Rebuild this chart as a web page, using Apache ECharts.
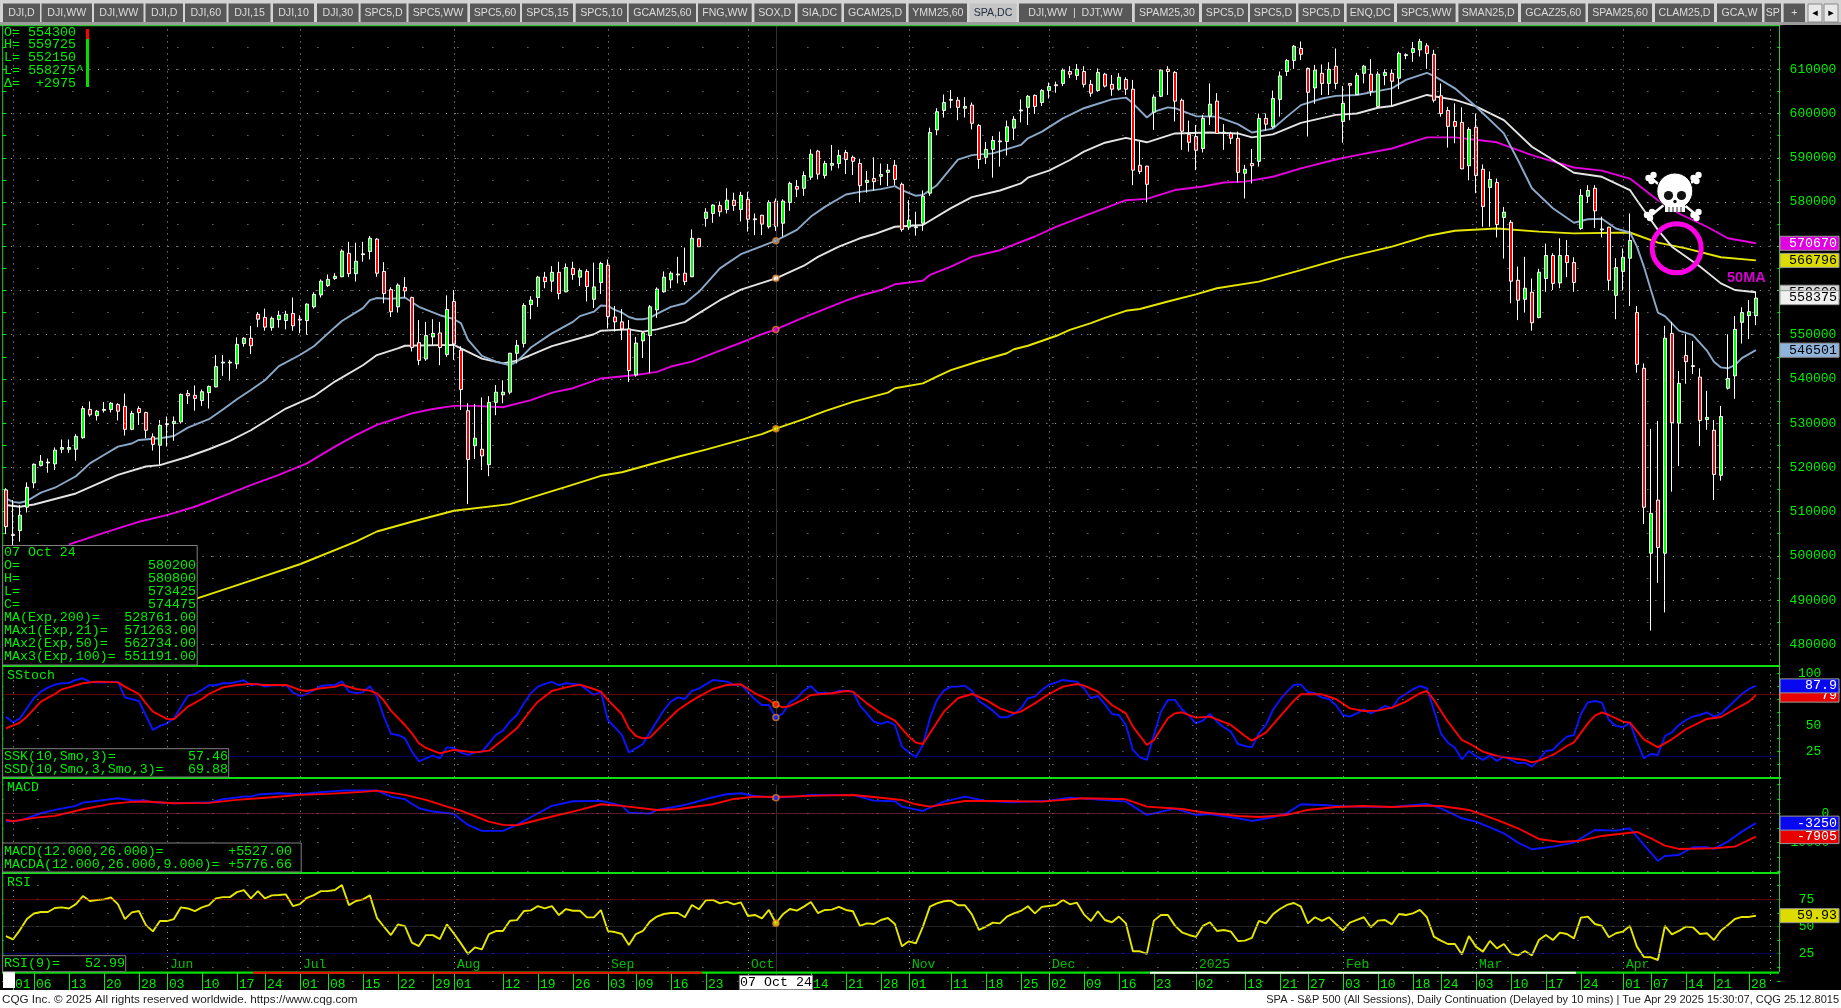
<!DOCTYPE html>
<html><head><meta charset="utf-8">
<style>html,body{margin:0;padding:0;background:#000;overflow:hidden}#c{width:1841px;height:1008px}</style>
<script src="https://cdn.jsdelivr.net/npm/echarts@6/dist/echarts.min.js"></script>
</head><body><div id="c"></div>
<script>
// ---- data (S&P 500 index points) ----
const open=[5149,5048,5057,5110,5165,5204,5210,5208,5241,5241,5241,5267,5331,5317,5329,5331,5342,5338,5286,5333,5324,5269,5250,5299,5299,5303,5367,5363,5351,5369,5382,5436,5436,5434,5480,5492,5546,5539,5516,5534,5532,5548,5535,5532,5563,5590,5611,5627,5631,5684,5638,5681,5688,5716,5643,5602,5563,5607,5584,5482,5445,5495,5504,5455,5575,5465,5328,5249,5241,5206,5347,5364,5370,5458,5480,5568,5584,5630,5621,5641,5597,5650,5630,5643,5580,5618,5657,5540,5529,5513,5409,5486,5498,5556,5597,5624,5635,5639,5631,5717,5763,5774,5792,5783,5804,5783,5806,5762,5770,5744,5802,5752,5799,5835,5831,5856,5915,5860,5883,5887,5912,5901,5887,5844,5853,5858,5867,5883,5840,5743,5742,5752,5820,5963,6007,6030,6030,6012,6019,5973,5901,5919,5936,5937,5967,6006,6014,6041,6025,6052,6065,6068,6095,6086,6095,6066,6052,6089,6066,6055,6077,6055,5883,5881,6003,6039,6100,6093,6030,5953,5948,5921,5994,6028,5956,5955,5944,5865,5887,5892,5989,5970,6032,6095,6120,6147,6102,6058,6091,6068,6107,5982,6068,6043,6091,6089,6016,6086,6091,6080,6131,6138,6144,6153,6134,6040,6007,5982,5980,5882,5969,5874,5833,5844,5765,5754,5623,5580,5596,5539,5627,5679,5617,5679,5663,5740,5813,5831,5737,5743,5589,5643,5673,5550,5424,5006,5126,5006,5503,5300,5453,5430,5404,5308,5284,5182,5379,5407,5528,5543,5543];
const close=[5066,5046,5092,5155,5207,5214,5212,5239,5245,5245,5270,5333,5319,5327,5331,5345,5327,5286,5322,5324,5284,5252,5295,5297,5304,5365,5362,5356,5371,5383,5428,5438,5438,5478,5492,5475,5535,5517,5537,5544,5546,5520,5533,5569,5591,5621,5625,5632,5689,5638,5666,5683,5718,5639,5593,5552,5612,5599,5471,5442,5498,5503,5471,5557,5479,5376,5218,5266,5226,5347,5370,5370,5458,5476,5566,5578,5630,5620,5641,5593,5652,5636,5645,5609,5608,5661,5541,5529,5513,5419,5481,5504,5563,5603,5630,5639,5637,5620,5718,5699,5777,5793,5778,5804,5792,5815,5761,5760,5750,5799,5744.75,5802,5842,5829,5860,5908,5863,5887,5887,5905,5896,5892,5837,5849,5846,5862,5872,5851,5738,5759,5744,5813,5957,6004,6025,6032,6014,6016,5978,5896,5919,5939,5938,5970,5987,6008,6039,6016,6052,6061,6063,6098,6089,6100,6066,6046,6093,6062,6055,6082,6055,5872,5869,5840,6037,6098,6095,6028,5960,5935,5917,5989,6021,5955,5958,5944,5867,5874,5882,5989,5976,6034,6085,6120,6152,6134,6048,6098,6068,6100,6068,6023,6064,6086,6107,6050,6089,6093,6073,6136,6133,6147,6163,6136,6030,6000,5971,5971,5875,5964,5860,5790,5851,5749,5777,5621,5578,5605,5527,5641,5679,5616,5679,5663,5618,5815,5826,5780,5739,5623,5652,5675,5713,5433,5110,5096,5019,5492,5301,5390,5439,5428,5306,5313,5184,5315,5401,5512,5550,5552,5582.75];
const high=[5153,5126,5115,5166,5209,5228,5220,5245,5263,5263,5275,5339,5349,5330,5348,5348,5345,5367,5328,5338,5326,5277,5307,5315,5315,5367,5375,5385,5376,5385,5454,5454,5443,5494,5494,5520,5551,5559,5541,5554,5554,5584,5544,5571,5596,5625,5636,5639,5693,5710,5708,5710,5723,5718,5664,5607,5616,5630,5586,5533,5529,5535,5529,5589,5601,5474,5345,5343,5358,5361,5386,5397,5459,5488,5571,5587,5633,5642,5655,5665,5661,5665,5650,5648,5663,5665,5670,5565,5558,5533,5495,5507,5567,5607,5643,5643,5676,5697,5738,5719,5786,5795,5801,5831,5821,5823,5823,5774,5771,5804,5808,5806,5846,5850,5869,5919,5918,5893,5929,5918,5918,5905,5898,5870,5901,5887,5886,5895,5844,5804,5778,5826,5968,6012,6043,6053,6037,6037,6025,5976,5936,5949,5959,5984,5994,6032,6042,6043,6055,6070,6072,6102,6107,6112,6107,6076,6102,6092,6087,6091,6082,6076,5936,5882,6043,6100,6107,6096,6034,5984,5974,5997,6068,6046,5976,5959,5959,5884,5920,6000,6000,6052,6095,6123,6155,6163,6104,6110,6111,6116,6147,6062,6069,6092,6110,6123,6095,6100,6100,6140,6136,6162,6169,6159,6144,6068,6015,6023,6014,5969,6000,5885,5869,5853,5789,5759,5654,5676,5627,5649,5706,5684,5718,5714,5675,5829,5838,5838,5767,5744,5673,5695,5774,5565,5435,5287,5305,5520,5529,5418,5501,5486,5424,5373,5307,5339,5501,5542,5562,5578,5597.25];
const low=[5049,5024,5032,5098,5153,5202,5188,5194,5232,5233,5215,5265,5315,5306,5324,5324,5306,5272,5284,5296,5266,5238,5206,5247,5260,5299,5343,5328,5339,5333,5381,5407,5396,5423,5473,5456,5517,5509,5509,5516,5512,5509,5503,5500,5559,5584,5608,5624,5630,5630,5620,5665,5670,5631,5571,5540,5550,5584,5462,5431,5441,5477,5431,5450,5443,5330,5117,5219,5194,5180,5318,5345,5365,5435,5471,5535,5563,5605,5597,5580,5596,5624,5610,5575,5560,5592,5514,5507,5488,5393,5405,5447,5413,5538,5595,5605,5616,5612,5630,5698,5744,5753,5767,5774,5780,5756,5733,5725,5725,5740,5734.25,5722,5780,5811,5814,5850,5851,5853,5871,5876,5863,5861,5799,5821,5826,5838,5836,5838,5733,5737,5724,5735,5814,5951,5991,6012,5985,5991,5964,5875,5886,5855,5880,5905,5940,5980,5974,5999,6017,6034,6047,6062,6080,6076,6059,6038,6049,6059,6040,6052,6042,5838,5863,5799,5963,6037,6042,5982,5918,5914,5872,5912,5974,5954,5918,5931,5844,5808,5842,5880,5961,5966,5993,6085,6101,6121,5948,6022,6042,6042,6055,5934,5985,6042,6068,6040,6014,6064,6018,6055,6123,6117,6129,6101,6025,5993,5923,5933,5874,5849,5820,5744,5744,5720,5672,5571,5533,5550,5509,5537,5597,5601,5605,5630,5597,5737,5798,5741,5720,5600,5535,5600,5565,5414,5072,4831,4939,4872,5145,5203,5389,5411,5248,5285,5126,5170,5376,5355,5480,5490,5521.5];

const ema21=[[0,5130],[1,5122],[2,5120],[3,5124],[5,5143],[7,5154],[10,5180],[12,5209],[14,5228],[16,5247],[18,5254],[19,5262],[22,5266],[24,5271],[26,5290],[29,5309],[31,5331],[33,5354],[35,5375],[37,5397],[39,5429],[42,5454],[44,5474],[47,5517],[48,5531],[51,5560],[52,5578],[53,5583],[55,5581],[57,5584],[59,5563],[62,5544],[64,5535],[65,5526],[66,5489],[68,5452],[70,5439],[72,5431],[73,5439],[75,5471],[78,5503],[81,5529],[82,5542],[84,5552],[85,5566],[86,5565],[87,5556],[88,5550],[89,5540],[90,5535],[91,5535],[92,5538],[93,5547],[95,5563],[97,5571],[99,5597],[102,5650],[105,5682],[108,5700],[110,5712.63],[113,5737],[115,5767],[117,5789],[120,5817],[122,5823],[125,5829],[127,5836],[128,5827],[130,5814],[131,5816],[133,5838],[136,5896],[138,5906],[141,5910],[145,5929],[146,5944],[148,5959],[151,5989],[154,6012],[155,6017],[158,6032],[160,6036],[161,6023],[163,5991],[164,6004],[166,6014],[167,6012],[170,5994],[173,5993],[176,5976],[178,5957],[181,5966],[183,5993],[185,6019],[188,6034],[190,6040],[193,6042],[198,6057],[200,6076],[203,6092],[204,6085],[207,6057],[210,6016],[214,5955],[216,5895],[218,5831],[221,5786],[224,5753],[226,5761],[228,5762],[230,5740],[232,5731],[233,5699],[234,5654],[235,5601],[236,5550],[237,5542],[239,5509],[241,5499],[243,5464],[244,5439],[245,5426],[246,5424],[247,5431],[248,5447],[250,5465.01]];
const ema50=[[0,5115],[2,5111],[4,5116],[10,5141],[16,5183],[20,5202],[22,5205],[26,5224],[29,5241],[32,5260],[35,5284],[40,5333],[44,5361],[47,5394],[51,5431],[53,5454],[56,5469],[57,5475],[64,5477],[65,5469],[68,5446],[71,5435],[73,5441],[78,5474],[84,5501],[85,5509],[89,5512],[91,5507],[93,5512],[97,5529],[102,5578],[105,5602],[110,5627.34],[114,5656],[116,5676],[119,5699],[122,5718],[124,5727],[127,5744],[131,5748],[135,5786],[138,5811],[142,5826],[145,5842],[146,5855],[149,5871],[152,5895],[154,5914],[157,5934],[160,5945],[163,5935],[167,5955],[172,5957],[176,5955],[178,5946],[181,5953],[185,5979],[190,5997],[193,6000],[196,6013],[198,6017],[203,6042],[207,6031],[210,6016],[214,5985],[218,5925],[224,5866],[228,5857],[232,5827],[233,5804],[236,5737],[238,5699],[242,5654],[245,5616],[247,5601],[250,5596]];
const ema100=[[9,5026],[11,5036],[14,5052],[16,5062],[19,5077],[23,5092],[27,5111],[31,5135],[35,5160],[39,5183],[43,5209],[47,5247],[50,5273],[53,5296],[58,5322],[61,5332],[64,5339],[67,5339],[71,5336],[75,5352],[78,5369],[81,5379],[85,5401],[90,5409],[93,5416],[95,5428],[98,5439],[101,5458],[106,5488],[108,5501],[110,5511.91],[114,5539],[120,5577],[122,5588],[125,5601],[127,5614],[131,5622],[132,5635],[135,5654],[138,5676],[142,5691],[147,5722],[150,5744],[154,5768],[160,5804],[163,5807],[167,5827],[171,5835],[174,5844],[177,5846],[181,5857],[185,5876],[190,5896],[193,5906],[198,5921],[203,5946],[207,5946],[213,5935],[218,5906],[224,5878],[228,5871],[232,5853],[236,5804],[239,5774],[243,5744],[246,5718],[250,5706.7]];
const ema200=[[27,4902],[35,4944],[42,4981],[50,5032],[53,5055],[58,5077],[64,5102],[72,5117],[80,5156],[85,5181],[88,5189],[96,5224],[100,5240],[108,5275],[110,5287.61],[114,5309],[117,5327],[121,5348],[126,5369],[127,5379],[131,5390],[133,5405],[135,5420],[139,5440],[143,5458],[144,5467],[146,5475],[150,5497],[152,5511],[155,5526],[157,5538],[160,5554],[162,5558],[166,5575],[170,5591],[173,5605],[179,5620],[185,5646],[191,5673],[198,5699],[203,5723],[207,5735],[213,5740],[219,5733],[224,5729],[232,5731],[236,5708],[240,5695],[245,5675],[250,5667.96]];

const stochK=[[0,58.3],[1,52.9],[2,56.7],[4,76],[5,82.4],[6,86.2],[7,89.1],[8,90.4],[9,90.7],[10,93.6],[11,95.2],[12,91.7],[14,91],[16,92],[17,76.9],[19,73.4],[21,45.5],[22,49.4],[23,51.9],[24,56.7],[26,78.5],[27,80.1],[28,84],[29,88.5],[30,88.5],[31,90.4],[32,90.4],[33,91.7],[34,93.3],[35,88.5],[36,89.8],[37,87.2],[38,88.1],[40,88.8],[41,81.4],[42,78.2],[43,80.1],[44,84],[45,87.8],[46,88.5],[47,88.5],[48,92.3],[49,82.4],[50,81.1],[51,81.7],[52,87.5],[53,77.6],[54,58.3],[55,41.7],[56,40.7],[57,37.5],[58,24.7],[59,15.4],[60,18.3],[61,20.8],[62,18.3],[63,28.8],[64,28.2],[65,23.7],[66,21.5],[67,24],[68,24.4],[69,32.7],[70,40.7],[71,44.9],[72,53.5],[73,59.9],[74,71.2],[75,80.8],[76,87.2],[77,89.8],[78,91.7],[79,88.5],[80,90.4],[81,89.8],[82,89.1],[84,79.2],[85,82.1],[86,55.1],[88,40.7],[89,24],[91,32],[94,64.7],[95,72.8],[96,76.9],[97,75.3],[98,83],[99,85.3],[101,93.6],[103,92],[104,88.8],[105,89.4],[107,75],[108,69.5],[109,69.5],[110,57.46],[111,61.5],[112,72.1],[113,76],[114,83.3],[115,87.8],[116,80.8],[117,81.4],[118,80.8],[119,83.3],[120,83.3],[121,82.4],[122,68.9],[123,61.5],[124,53.5],[125,51.3],[126,53.5],[127,50.3],[128,29.5],[129,24],[130,19.2],[131,31.1],[132,56.7],[133,74.4],[134,83.3],[135,87.2],[136,87.2],[137,88.1],[138,83.3],[139,73.4],[140,68.9],[141,64.1],[142,57.7],[143,57.7],[144,60.9],[145,66.3],[146,76],[147,77.6],[148,84],[149,89.1],[150,91],[151,93.6],[152,92.6],[153,92],[154,85.6],[155,76],[156,78.2],[157,70.2],[158,60.9],[159,59.9],[160,50.3],[161,26.3],[162,19.2],[163,16.7],[164,40.7],[165,63.1],[166,74.4],[167,74.4],[168,65.4],[169,59.3],[170,51.9],[171,54.5],[172,60.9],[173,53.5],[174,48.1],[175,43.9],[176,32],[177,30.1],[178,28.8],[179,42.3],[180,50.3],[181,64.7],[182,74.4],[183,82.4],[184,88.8],[185,89.4],[186,82],[187,80.8],[188,76.9],[189,75.3],[190,69.5],[191,59.9],[192,58.3],[193,61.5],[194,65.4],[195,61.5],[196,64.7],[197,68.6],[198,66.3],[199,76],[200,80.1],[201,84.6],[202,87.8],[203,85.6],[204,64.7],[205,42.3],[206,33.3],[207,28.5],[208,17.3],[209,25.3],[210,20.5],[211,16.7],[212,20.8],[213,15.7],[214,19.9],[215,16.7],[216,13.5],[217,14.1],[218,10.3],[219,16.7],[220,25.3],[221,26.3],[222,33.3],[223,39.1],[224,40.7],[225,60.9],[226,72.1],[227,73.4],[228,71.8],[229,55.1],[230,49.4],[231,48.1],[232,52.6],[233,34.3],[234,18.3],[235,22.4],[236,21.5],[237,39.7],[238,43.3],[239,50.3],[240,55.1],[241,58.3],[242,59.9],[243,62.5],[244,58.3],[245,60.9],[246,67.3],[247,73.7],[248,80.1],[249,84.9],[250,87.9]];
const stochD=[[0,47.1],[2,52.6],[3,58.3],[5,72.7],[7,80.1],[8,84.6],[9,86.5],[11,90.4],[13,92],[16,91.3],[17,87.2],[19,80.1],[20,71.2],[21,63.1],[23,56.1],[24,55.8],[26,68],[28,75.3],[29,80.1],[31,86.5],[33,88.8],[35,89.8],[37,88.8],[40,88.8],[42,84],[43,83],[45,85.6],[47,86.9],[48,89.1],[50,84.9],[52,83.3],[53,80.8],[54,73.7],[55,64.1],[57,50.3],[58,42.3],[59,32.7],[60,28.2],[62,23.1],[64,26.3],[67,24],[69,25.6],[71,35.9],[73,47.1],[75,64.7],[76,72.7],[78,83],[80,86.5],[82,89.1],[84,84.9],[85,82.4],[86,74.4],[88,60.6],[89,47.1],[90,39.7],[91,37.5],[92,38.1],[94,51.9],[96,64.7],[98,73.7],[99,77.6],[101,84.9],[103,88.8],[105,89.4],[107,80.8],[109,74.4],[110,69.88],[111,67.3],[112,68.6],[114,75],[115,79.2],[118,80.8],[120,83],[121,82.4],[123,71.1],[125,61.5],[127,54.5],[129,39.1],[130,33.3],[131,32],[132,42.3],[134,63.1],[136,76],[138,80.1],[140,74.4],[142,66.3],[144,61.5],[145,63.1],[147,71.1],[149,80.1],[151,87.2],[153,89.7],[154,88.1],[156,82.4],[158,69.5],[160,61.5],[161,48.7],[163,31.1],[164,35.9],[166,56.7],[167,61.5],[168,62.5],[170,57.4],[172,58.3],[173,55.8],[175,50.3],[177,39.7],[178,35.3],[179,39.1],[180,42.9],[182,58.3],[184,73.7],[185,79.8],[188,79.8],[190,75.3],[192,66.3],[194,63.8],[196,64.1],[198,67],[200,72.8],[202,80.8],[203,83],[204,74.4],[206,53.5],[208,35.9],[209,32.7],[211,24.7],[213,20.5],[215,18.3],[217,16.7],[218,14.4],[219,16],[221,21.5],[223,30.1],[224,33.6],[226,51.9],[227,59.3],[228,62.5],[229,59.9],[231,53.5],[232,52.6],[234,36.5],[236,28.8],[238,36.5],[240,46.2],[243,56.1],[245,58],[247,65.4],[249,72.8],[250,79]];
const macd=[[0,-2711],[2,-2367],[5,161],[7,1310],[10,2689],[11,3838],[16,5332],[18,4642],[20,4527],[21,3953],[24,3608],[29,3838],[31,4987],[34,5906],[35,5906],[36,6596],[39,7055],[42,6710],[45,7400],[48,7975],[53,7975],[55,5906],[57,4987],[59,1885],[61,736],[64,-68],[66,-3860],[68,-5930],[71,-5930],[73,-3860],[76,161],[78,2689],[81,4297],[85,4412],[88,2804],[89,375],[92,30],[93,1294],[97,3018],[101,5660],[103,6694],[105,7039],[107,6120],[110,5527],[113,5890],[115,6465],[121,6465],[124,4511],[127,4281],[128,2443],[131,949],[134,4166],[137,5890],[140,4396],[144,3936],[149,4511],[152,5547],[158,4511],[160,4166],[163,-428],[167,1754],[170,-428],[172,-92],[176,-1578],[178,-2497],[181,-1233],[183,145],[185,3247],[188,3018],[192,2443],[198,2328],[203,3362],[205,1868],[208,-1578],[210,-2727],[212,-4681],[214,-6748],[216,-9966],[218,-12264],[221,-11344],[224,-9966],[227,-5600],[230,-5830],[232,-5024],[234,-10770],[236,-16286],[237,-14562],[239,-14218],[241,-11575],[243,-11575],[244,-12149],[246,-9621],[248,-6175],[250,-3250]];
const macdAvg=[[0,-2137],[1,-2597],[4,-1447],[7,-758],[11,1540],[15,3378],[18,4067],[20,4182],[24,3608],[29,3723],[33,4757],[38,5676],[42,6480],[46,6825],[51,7515],[53,7975],[57,6480],[60,4757],[63,2459],[65,1080],[69,-2711],[71,-3860],[73,-3975],[77,-1562],[82,1310],[85,3263],[88,2689],[93,1294],[96,1523],[101,3247],[104,5086],[107,5890],[110,5776.66],[116,6235],[121,6465],[124,5776],[128,4741],[130,3247],[132,2443],[137,4396],[142,4396],[148,4166],[154,5316],[160,4971],[163,2443],[168,1638],[171,490],[176,-775],[179,-1120],[183,-428],[186,1294],[190,2328],[194,2673],[198,2328],[203,2787],[205,2673],[209,1294],[213,-2153],[216,-5024],[219,-8703],[222,-9736],[225,-9276],[228,-7668],[233,-6289],[235,-8472],[237,-11000],[239,-12149],[244,-11919],[247,-11345],[248,-10195],[250,-7905]];
const rsi=[41.2,38.1,46.7,56.8,62,63.3,63.3,67,67.6,66.6,70.6,78,73.4,74.3,74.9,76.7,70.6,56.8,63,64.2,51.3,45.5,55,55,56.8,67.6,66.6,64.2,67.6,69.7,75.8,77,77,81.6,83.5,75.8,82.5,75.8,78.6,78.9,79.5,68.8,70.6,76.4,78.9,82.5,82.5,83.5,88.1,69.7,73.4,74.9,78.6,58,49.8,42.1,51.9,50.4,35.1,32,42.1,42.1,38.4,51.9,43.6,34.5,24.7,30.8,29,43,45.8,45.8,55.3,55.9,64.2,64.8,68.8,66.6,68.8,60.5,66,64.5,64.5,58.4,58.4,65.1,45.8,44.9,43.1,33,43.1,45.9,54.5,59.1,61.5,62.4,62.4,58.5,69.8,65.8,74.1,74.4,71.3,72.9,70.4,72.2,59.7,60.6,57.5,65.2,52.99,61.2,66.1,64.6,68.3,72.5,62.4,65.2,65.5,68,65.2,64,50.5,52.9,52.3,56,57.8,52.3,31.8,36.4,34.5,49.9,68.3,71.3,73.2,73.8,69.5,69.5,61.2,46.8,49.9,53.6,52.9,59.1,62.1,64.3,68.6,62.1,68,68.9,69.8,74.4,70.4,71.9,61.2,55.1,64,56,53.9,59.1,52.9,27.2,27.2,24.8,55.4,60.6,60.6,50.8,44.7,42.2,40.4,50.5,53.9,45.9,46.8,45.3,36.7,37,39.5,55.1,52.9,61.2,66.1,69.8,71.6,68.3,52.9,58.5,55.1,58.5,52.3,46.5,53.6,56,58.5,49.3,55.4,56,52,61.5,60.6,62.1,65.2,58.5,40.7,37,33.9,33.9,24.4,41.3,31.5,26.9,36.7,29.9,33.9,25.4,23.5,27.5,23.5,37.6,42.2,37.6,44.4,43.1,39.1,58.2,59.1,52.3,50.5,40.1,43.8,45.3,50.5,31.5,22,21.7,19.2,50.5,42.8,45.9,49.9,49.3,43.1,43.8,37.6,46.2,51.4,56.9,58.8,58.8,59.93];

const dateTicks={1:'01',4:'06',9:'13',14:'20',19:'28',23:'03',28:'10',33:'17',37:'24',42:'01',46:'08',51:'15',56:'22',61:'29',64:'01',71:'12',76:'19',81:'26',86:'03',90:'09',95:'16',100:'23',115:'14',120:'21',125:'28',129:'01',135:'11',140:'18',145:'25',149:'02',154:'09',159:'16',164:'23',170:'02',177:'13',182:'21',186:'27',191:'03',196:'10',201:'18',205:'24',210:'03',215:'10',220:'17',225:'24',231:'01',235:'07',240:'14',244:'21',249:'28'};
const monthIdx=[1,23,42,64,86,106,129,149,170,191,210,231,252];
const monthNames=[[23,'Jun'],[42,'Jul'],[64,'Aug'],[86,'Sep'],[106,'Oct'],[129,'Nov'],[149,'Dec'],[170,'2025'],[191,'Feb'],[210,'Mar'],[231,'Apr']];
const priceMajors=[4800,4900,5000,5100,5200,5300,5400,5500,5600,5700,5800,5900,6000,6100];
const crossIdx=110;
const tabNames=['DJI,D','DJI,WW','DJI,WW','DJI,D','DJI,60','DJI,15','DJI,10','DJI,30','SPC5,D','SPC5,WW','SPC5,60','SPC5,15','SPC5,10','GCAM25,60','FNG,WW','SOX,D','SIA,DC','GCAM25,D','YMM25,60','SPA,DC','DJI,WW  |  DJT,WW','SPAM25,30','SPC5,D','SPC5,D','SPC5,D','ENQ,DC','SPC5,WW','SMAN25,D','GCAZ25,60','SPAM25,60','CLAM25,D','GCA,W','SP','+'];
// ---- layout of the tab strip ----
const tabEdges=[[3,40],[41.5,92],[94,143.5],[145.5,183],[185,226.5],[228.5,270.5],[273,314],[317,358.6],[360.6,406.5],[408.5,467.4],[470,520],[522,573],[575.7,627],[628.7,696],[698,751.7],[754.4,795],[797.5,841.4],[844,906],[908.6,967],[969.5,1016.6],[1019,1132],[1134.8,1199],[1202,1248],[1250,1296],[1298.4,1344],[1346.7,1394],[1397,1455.6],[1458.4,1518],[1521,1585.5],[1588,1652],[1655,1714],[1717,1762],[1764.5,1781],[1783.6,1805]];

const slots=254, GREEN='#00ee00', MONO='"Liberation Mono","DejaVu Sans Mono",monospace';
const cats=Array.from({length:slots},(_,i)=>String(i));
const GL=2.4,GW=7*slots;
const candleData=open.map((o,i)=>[o,close[i],low[i],high[i]]);
const chart=echarts.init(document.getElementById('c'),null,{renderer:'canvas',width:1841,height:1008});

function vMarks(extra){return [...monthIdx.map(i=>({xAxis:i})),{xAxis:crossIdx,lineStyle:{type:'solid',color:'#303030',width:1}},...(extra||[])];}
const mk=(data)=>({silent:true,symbol:'none',animation:false,label:{show:false},lineStyle:{color:'#a8a8a8',type:[1,5],width:1},data});
const hLine=(v,c)=>({yAxis:v,lineStyle:{color:c,type:[1,1],width:1}});
const xAxisBase=(g)=>({type:'category',gridIndex:g,data:cats,show:false,boundaryGap:true});
const yBase=(g,o)=>Object.assign({type:'value',gridIndex:g,position:'right',scale:false,
  axisLine:{show:false},axisTick:{show:true,inside:true,length:3,lineStyle:{color:GREEN}},
  splitLine:{show:true,lineStyle:{color:'#9a9a9a',type:[1,34],width:1}}},o);
const lab=(fmt,margin)=>({show:true,color:GREEN,fontFamily:MONO,fontSize:13,align:'right',margin,formatter:fmt});
const line=(name,data,color,xi,yi,z,w)=>({name,type:'line',data,xAxisIndex:xi,yAxisIndex:yi,showSymbol:false,symbol:'none',z:z||2,lineStyle:{color,width:w||1.9},silent:true});
const dots=(data,xi,yi)=>({type:'scatter',xAxisIndex:xi,yAxisIndex:yi,z:6,symbolSize:6,silent:true,data:data.map(d=>({value:[crossIdx,d[0]],itemStyle:{color:d[1],borderColor:'#e08020',borderWidth:1.5}}))});

const option={
 backgroundColor:'#000',animation:false,
 grid:[
  {left:GL,width:GW,top:25.07,height:641.35},
  {left:GL,width:GW,top:673.3,height:104},
  {left:GL,width:GW,top:784.7,height:87},
  {left:GL,width:GW,top:872.1,height:108.8},
  {left:GL,width:GW,top:972,height:1}
 ],
 xAxis:[xAxisBase(0),xAxisBase(1),xAxisBase(2),xAxisBase(3),
  {type:'category',gridIndex:4,data:cats,boundaryGap:true,
   axisLine:{show:false},
   axisTick:{show:true,alignWithLabel:true,interval:(i)=>dateTicks[i]!==undefined,length:17,lineStyle:{color:GREEN}},
   axisLabel:{show:true,interval:(i)=>dateTicks[i]!==undefined,color:GREEN,fontFamily:MONO,fontSize:13,align:'left',margin:5,padding:[0,0,0,2],
     formatter:(v,i)=>dateTicks[i]||''}}
 ],
 yAxis:[
  yBase(0,{min:4750,max:6200,interval:50,axisLabel:lab(v=>(v%100===0&&v>=4800&&v<=6100)?String(v*100):'',56)}),
  yBase(1,{min:0,max:100,interval:12.5,axisLabel:lab(v=>(v===100||v===50||v===25)?String(v):'',41)}),
  yBase(2,{min:-20000,max:10000,interval:5000,axisLabel:lab(v=>(v===0||v===-10000)?String(v):'',49)}),
  yBase(3,{min:0,max:100,interval:12.5,axisLabel:lab(v=>(v===25||v===50||v===75)?String(v):'',34)}),
  {type:'value',gridIndex:4,show:false,min:0,max:1},
  {type:'value',gridIndex:0,position:'left',min:4750,max:6200,interval:50,axisLine:{show:false},axisLabel:{show:false},splitLine:{show:false},axisTick:{show:true,inside:true,length:4,lineStyle:{color:GREEN}}}
 ],
 series:[
  Object.assign(line('MA200',ema200,'#e6e600',0,0),{markLine:mk([...priceMajors.map(p=>({yAxis:p,lineStyle:{color:'#a8a8a8',type:[1,7.7],width:1}})),...vMarks()])}),
  line('MA100',ema100,'#e600e0',0,0),
  line('MA50',ema50,'#e4e4e4',0,0),
  line('MA21',ema21,'#8aa9c9',0,0),
  {name:'SPA',type:'candlestick',data:candleData,xAxisIndex:0,yAxisIndex:0,barWidth:4,z:3,silent:true,
   itemStyle:{color:'#00ff00',color0:'#ff0000',borderColor:'#ffffff',borderColor0:'#ffffff',borderWidth:1}},
  dots([[5712.63,'#8aa9c9'],[5627.34,'#ffffff'],[5511.91,'#e600e0'],[5287.61,'#e6e600']],0,0),

  Object.assign(line('K',stochK,'#0a14ff',1,1,3),{markLine:mk([hLine(80,'#d00000'),hLine(20,'#0000d0'),...vMarks()])}),
  line('D',stochD,'#ff0000',1,1,4),
  dots([[57.46,'#2030ff'],[69.88,'#ff2000']],1,1),

  Object.assign(line('MACD',macd,'#0a14ff',2,2,3),{markLine:mk([hLine(0,'#c03050'),...vMarks()])}),
  line('MACDA',macdAvg,'#ff0000',2,2,4),
  dots([[5527,'#2030ff']],2,2),

  Object.assign(line('RSI',rsi.map((v,i)=>[i,v]),'#e6e600',3,3,3),{markLine:mk([hLine(75,'#c00000'),hLine(25,'#0000c8'),hLine(50,'#444444'),...vMarks()])}),
  dots([[52.99,'#e6e600']],3,3),
  {type:'scatter',xAxisIndex:3,yAxisIndex:3,symbolSize:0,silent:true,z:5,
   data:monthNames.map(m=>({value:[m[0],14.6],name:m[1]})),
   label:{show:true,position:'right',distance:3,color:GREEN,fontFamily:MONO,fontSize:13,formatter:p=>p.name}},
  {type:'line',xAxisIndex:4,yAxisIndex:4,data:[],silent:true}
 ]
};
chart.setOption(option);

// ---- chrome: tab strip, info boxes, value flags, annotation ----
const gfx=[];
const R=(x,y,w,h,fill,z,stroke)=>gfx.push({type:'rect',shape:{x,y,width:w,height:h},style:{fill,stroke:stroke||null,lineWidth:1},z:z||50,silent:true});
const T=(x,y,t,o)=>gfx.push({type:'text',x,y,silent:true,z:(o&&o.z)||60,style:Object.assign({text:t,fill:GREEN,font:'13.3px '+MONO,textAlign:'left',textVerticalAlign:'middle'},o||{})});
const L=(x1,y1,x2,y2,c,w,z)=>gfx.push({type:'line',shape:{x1,y1,x2,y2},style:{stroke:c,lineWidth:w},z:z||55,silent:true});

// tab strip
R(0,0,1841,25,'#d4d4d4',40);
R(0,22,1841,3,'#9c9c9c',41);
tabNames.forEach((n,i)=>{const e=tabEdges[i],act=n==='SPA,DC';
  R(e[0],3.5,e[1]-e[0],18.5,act?'#c4c4c4':'#585858',42);
  T((e[0]+e[1])/2,13,n,{font:'10.6px "Liberation Sans"',fill:act?'#203040':'#dcdcdc',textAlign:'center',z:43});
});
R(1808,4,14,18,'#e8e8e8',42,'#888');R(1824,4,14,18,'#e8e8e8',42,'#888');
T(1815,13,'◂',{font:'11px "DejaVu Sans"',fill:'#000',textAlign:'center',z:43});
T(1831,13,'▸',{font:'11px "DejaVu Sans"',fill:'#000',textAlign:'center',z:43});

// frame lines
R(0,25,1780,1.2,'#30c830',44);
R(2.2,25,1,947,'#30c830',44);
R(1779,25,1,947,'#30c830',44);
R(2,665,1777,2,'#10e010',44);
R(2,777,1779,2,'#10e010',44);
R(2,872,1777,2,'#10e010',44);
R(2,971.5,1777,2.2,'#00e000',44);
R(253,971.7,449,2,'#ff0000',45);
R(1150,971.7,426,2,'#ffffff',45);
R(3,970,12,18,'#ffffff',46);
// footer
R(0,990,1841,18,'#ffffff',70);
T(2,999.5,'CQG Inc. © 2025 All rights reserved worldwide. https://www.cqg.com',{font:'11.7px "Liberation Sans"',fill:'#222',z:71});
T(1839,999.5,'SPA - S&P 500 (All Sessions), Daily Continuation (Delayed by 10 mins) | Tue Apr 29 2025 15:30:07, CQG 25.12.8015',{font:'11px "Liberation Sans"',fill:'#222',textAlign:'right',z:71});
// highlighted date
R(739.4,975.5,73.2,14,'#ffffff',65,'#888');
T(776,982.5,'07 Oct 24',{fill:'#000',textAlign:'center',z:66});

// quote block
[['O=','554300'],['H=','559725'],['L=','552150'],['L=','558275^'],['Δ=','+2975']].forEach((r,i)=>{
  const y=32+i*12.9; T(4,y,r[0]); T(r[1].endsWith('^')?84:76,y,r[1],{textAlign:'right'});
});
R(86,29,3,10,'#ff0000');R(86,39,3,48,'#00e000');
// main info box
R(2.7,545.5,194.5,119.5,'#000',52,'#808080');
T(4,552.7,'07 Oct 24');
[['O=','580200'],['H=','580800'],['L=','573425'],['C=','574475'],['MA(Exp,200)=','528761.00'],['MAx1(Exp,21)=','571263.00'],['MAx2(Exp,50)=','562734.00'],['MAx3(Exp,100)=','551191.00']].forEach((r,i)=>{
  const y=565.7+i*13; T(4,y,r[0]); T(196,y,r[1],{textAlign:'right'});
});
// panel boxes
R(2.7,748.7,226,28.3,'#000',52,'#808080');
T(4,756.2,'SSK(10,Smo,3)=');T(228,756.2,'57.46',{textAlign:'right'});
T(4,769,'SSD(10,Smo,3,Smo,3)=');T(228,769,'69.88',{textAlign:'right'});
R(2.7,843,298.5,29,'#000',52,'#808080');
T(4,851,'MACD(12.000,26.000)=');T(292,851,'+5527.00',{textAlign:'right'});
T(4,864,'MACDA(12.000,26.000,9.000)=');T(292,864,'+5776.66',{textAlign:'right'});
R(2.7,955.7,123,16,'#000',52,'#808080');
T(4,963.3,'RSI(9)=');T(125,963.3,'52.99',{textAlign:'right'});
T(7,675.7,'SStoch');T(7,787.7,'MACD');T(7,882.7,'RSI');

// value flags, placed from the axes' own scales
const flag=(yi,v,text,bg,fg,h,z)=>{const y=chart.convertToPixel({yAxisIndex:yi},v);
  R(1780,y-(h||14)/2,59,h||14,bg,z||80,'#999');
  T(1837,y,text,{fill:fg,textAlign:'right',z:(z||80)+1});};
flag(0,5706.7,'570670','#e000e0','#ffffff');
flag(0,5667.96,'566796','#dcdc00','#000000');
flag(0,5596,'559600','#d8d8d8','#000000',14,78);
flag(0,5583.75,'558375','#f0f0f0','#000000');
flag(0,5465.01,'546501','#8fb4dc','#000000');
flag(1,79,'79','#e80000','#ffffff',14,78);
flag(1,87.9,'87.9','#0808f0','#ffffff');
flag(2,-7905,'-7905','#e80000','#ffffff');
flag(2,-3250,'-3250','#0808f0','#ffffff');
flag(3,59.93,'59.93','#dcdc00','#000000');

// annotation: skull, circle, label
const BC=['#ffffff',2.5];
L(1651.5,178.5,1696.5,215,...BC,90);L(1696.5,178.5,1651.5,215,...BC,90);
[[1651.5,178],[1696.5,178],[1650,215],[1696.5,215]].forEach(p=>{
  [[-3,0],[0,3],[2,-3]].forEach(d=>gfx.push({type:'circle',shape:{cx:p[0]+d[0],cy:p[1]+d[1],r:3.2},style:{fill:'#fff'},z:90,silent:true}));
});
gfx.push({type:'circle',shape:{cx:1674.8,cy:191,r:18},style:{fill:'#fff',stroke:'#000',lineWidth:1},z:91,silent:true});
R(1665,203,20,9,'#fff',91);
[[1668.5,195.5],[1681.5,195.5]].forEach(p=>gfx.push({type:'circle',shape:{cx:p[0],cy:p[1],r:4.6},style:{fill:'#111'},z:92,silent:true}));
gfx.push({type:'circle',shape:{cx:1675,cy:201.5,r:1.7},style:{fill:'#111'},z:92,silent:true});
[1669,1673,1677,1681].forEach(x=>L(x,207,x,212,'#222',1,92));
gfx.push({type:'circle',shape:{cx:1676.7,cy:248.3,r:24.5},style:{fill:'none',stroke:'#ff00e6',lineWidth:5},z:85,silent:true});
T(1727,277.7,'50MA',{font:'bold 14.5px "Liberation Sans"',fill:'#d400d0',z:85});

chart.setOption({graphic:{elements:gfx}});
</script></body></html>
